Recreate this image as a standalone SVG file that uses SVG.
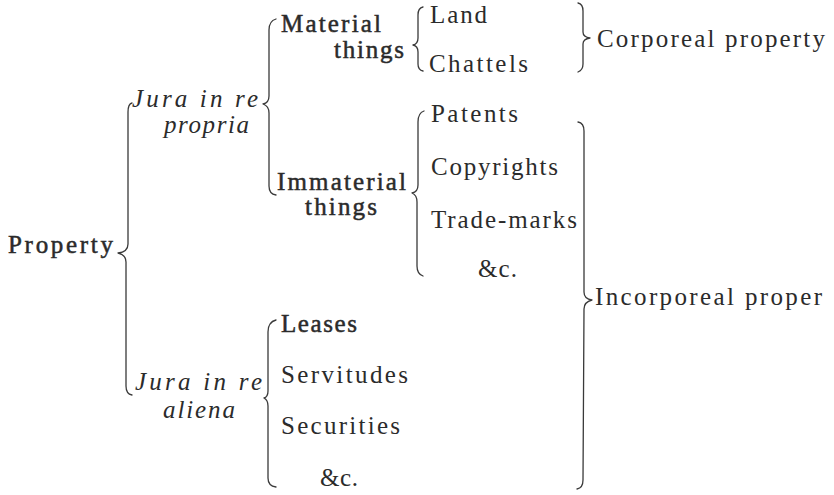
<svg xmlns="http://www.w3.org/2000/svg" width="834" height="495" viewBox="0 0 834 495">
  <style>
    .t { font-family: "Liberation Serif", "Times New Roman", serif; font-size: 25px; fill: #2b2b2b; }
    .b { stroke: #2b2b2b; stroke-width: 0.5; }
    .i { font-style: italic; }
    .brace { fill: none; stroke: #3a3a3a; stroke-width: 1.3; stroke-linecap: round; stroke-linejoin: round; }
  </style>
  <rect width="834" height="495" fill="#ffffff"/>

  <!-- braces joining each level of the classification -->
  <g id="connectors">
    <!-- Property -->
    <path class="brace" d="M132,103 Q128,104 128,112 L128,244 Q128,252 118,253 Q126,255 126,262 L126,386 Q126,394 132,395"/>
    <!-- Jura in re propria -->
    <path class="brace" d="M276,19 Q269,21 269,30 L269,96 Q269,103 263,104 Q269,106 269,113 L269,186 Q269,194 276,195"/>
    <!-- Material things -->
    <path class="brace" d="M423,7 Q418,8 418,15 L418,38 Q418,44 413,45 Q418,46 418,52 L418,64 Q418,70 423,71"/>
    <!-- Land / Chattels to Corporeal property -->
    <path class="brace" d="M578,3 Q583,4 583,11 L583,32 Q583,37 590,38 Q583,39 583,44 L583,64 Q583,70 578,72"/>
    <!-- Immaterial things -->
    <path class="brace" d="M424,111 Q418,113 418,122 L418,185 Q418,192 412,193 Q417,195 417,202 L417,266 Q417,274 423,276"/>
    <!-- to Incorporeal property -->
    <path class="brace" d="M578,122 Q584,123 584,131 L584,292 Q584,299 592,300 Q584,302 584,309 L583,480 Q583,488 577,489"/>
    <!-- Jura in re aliena -->
    <path class="brace" d="M276,320 Q268,322 268,332 L268,391 Q268,397 264,398 Q268,400 268,406 L268,478 Q268,486 276,487"/>
  </g>

  <g id="node-property">
    <text class="t b" x="8" y="253" textLength="105" lengthAdjust="spacing">Property</text>
  </g>

  <g id="node-jura-propria">
    <text class="t i" x="132" y="107" textLength="126" lengthAdjust="spacing">Jura in re</text>
    <text class="t i" x="164" y="133" textLength="85" lengthAdjust="spacing">propria</text>
  </g>

  <g id="node-jura-aliena">
    <text class="t i" x="135" y="390" textLength="127" lengthAdjust="spacing">Jura in re</text>
    <text class="t i" x="163" y="418" textLength="72" lengthAdjust="spacing">aliena</text>
  </g>

  <g id="node-material">
    <text class="t b" x="281" y="32" textLength="100" lengthAdjust="spacing">Material</text>
    <text class="t b" x="334" y="58" textLength="70" lengthAdjust="spacing">things</text>
  </g>

  <g id="node-immaterial">
    <text class="t b" x="277" y="190" textLength="129" lengthAdjust="spacing">Immaterial</text>
    <text class="t b" x="305" y="215" textLength="72" lengthAdjust="spacing">things</text>
  </g>

  <g id="node-land">
    <text class="t" x="430" y="23" textLength="57" lengthAdjust="spacing">Land</text>
  </g>
  <g id="node-chattels">
    <text class="t" x="429" y="72" textLength="99" lengthAdjust="spacing">Chattels</text>
  </g>

  <g id="node-patents">
    <text class="t" x="431" y="122" textLength="87" lengthAdjust="spacing">Patents</text>
  </g>
  <g id="node-copyrights">
    <text class="t" x="431" y="175" textLength="127" lengthAdjust="spacing">Copyrights</text>
  </g>
  <g id="node-trademarks">
    <text class="t" x="431" y="228" textLength="146" lengthAdjust="spacing">Trade-marks</text>
  </g>
  <g id="node-etc-immaterial">
    <text class="t" x="478" y="277" textLength="39" lengthAdjust="spacing">&amp;c.</text>
  </g>

  <g id="node-leases">
    <text class="t b" x="281" y="332" textLength="76" lengthAdjust="spacing">Leases</text>
  </g>
  <g id="node-servitudes">
    <text class="t" x="281" y="383" textLength="127" lengthAdjust="spacing">Servitudes</text>
  </g>
  <g id="node-securities">
    <text class="t" x="281" y="434" textLength="119" lengthAdjust="spacing">Securities</text>
  </g>
  <g id="node-etc-aliena">
    <text class="t" x="320" y="486" textLength="38" lengthAdjust="spacing">&amp;c.</text>
  </g>

  <g id="node-corporeal">
    <text class="t" x="597" y="47" textLength="228" lengthAdjust="spacing">Corporeal property</text>
  </g>
  <g id="node-incorporeal">
    <text class="t" x="595" y="305" textLength="227" lengthAdjust="spacing">Incorporeal proper</text>
  </g>
</svg>
